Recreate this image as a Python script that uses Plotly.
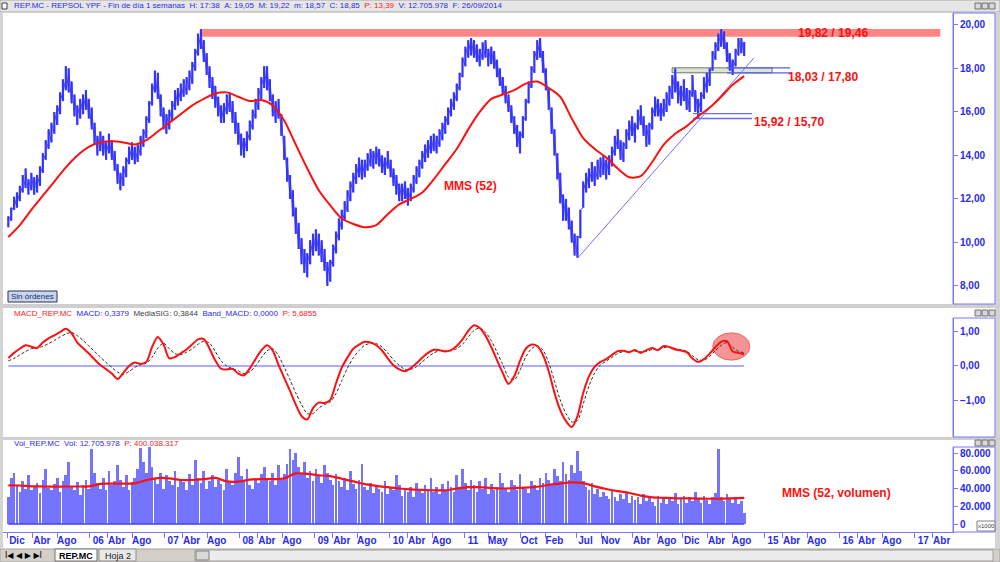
import pandas as pd
import plotly.graph_objects as go

# ---------------- DATA ----------------
LAST_DATE = "2014-09-26"

# bi-weekly high / low of REP.MC (EUR)
price_hi = [11.2, 11.6, 12.1, 12.3, 12.6, 13.1, 13.4, 12.9, 13.2, 13.0,
            13.1, 13.5, 14.1, 14.7, 15.2, 15.5, 16.0, 16.3, 16.9, 17.5,
            18.1, 18.0, 17.4, 16.8, 16.3, 16.6, 16.8, 17.0, 16.6, 16.2,
            15.5, 14.9, 15.1, 14.9, 14.6, 15.0, 14.7, 14.2, 13.6, 13.2,
            13.5, 13.9, 14.4, 14.6, 14.4, 14.5, 14.9, 15.2, 15.8, 16.5,
            17.3, 17.9, 17.8, 16.8, 16.2, 15.9, 16.1, 16.5, 17.0, 17.1,
            17.3, 17.5, 17.6, 17.9, 18.3, 18.9, 19.6, 19.8, 19.3, 18.7,
            18.1, 17.6, 17.2, 16.7, 16.3, 16.4, 16.8, 16.9, 16.5, 16.0,
            15.5, 15.0, 14.8, 15.1, 15.6, 16.1, 16.6, 17.1, 17.6, 18.1,
            18.1, 17.5, 16.8, 16.5, 16.6, 15.9, 14.9, 13.9, 13.1, 12.4,
            11.6, 10.9, 10.2, 9.7, 9.5, 10.1, 10.4, 10.6, 10.4, 10.1,
            9.7, 9.1, 9.2, 9.9, 10.5, 11.1, 11.5, 11.9, 12.4, 12.8,
            13.2, 13.6, 13.9, 13.8, 13.8, 14.1, 14.3, 14.2, 14.4, 14.3,
            14.0, 13.9, 14.2, 13.8, 13.4, 13.1, 12.7, 12.7, 12.8, 12.5,
            12.7, 13.1, 13.5, 13.8, 14.2, 14.5, 14.7, 14.9, 15.0, 14.9,
            15.2, 15.5, 15.8, 16.2, 16.6, 16.9, 17.3, 17.8, 18.5, 19.0,
            19.3, 19.4, 19.3, 19.1, 18.9, 19.2, 19.3, 18.9, 19.0, 18.8,
            18.4, 18.0, 17.6, 17.2, 16.8, 16.3, 15.8, 15.4, 15.1, 15.8,
            16.6, 17.4, 18.1, 18.8, 19.3, 19.4, 18.8, 18.0, 17.1, 16.2,
            15.2, 14.1, 13.2, 12.2, 12.0, 11.6, 11.0, 10.4, 10.3, 11.5,
            12.8, 13.2, 13.4, 13.7, 13.5, 13.8, 13.9, 14.0, 13.8, 14.0,
            14.4, 14.9, 15.2, 14.7, 14.6, 15.2, 15.6, 15.8, 15.5, 16.1,
            16.3, 15.8, 15.4, 15.5, 16.2, 16.7, 16.6, 16.4, 16.6, 16.9,
            17.2, 17.7, 18.0, 17.4, 17.2, 17.5, 17.1, 17.0, 17.7, 17.0,
            16.6, 16.9, 17.6, 17.8, 18.0, 18.8, 19.2, 19.6, 19.8, 19.7,
            19.2, 18.7, 18.4, 18.9, 19.4, 19.4, 19.22]
price_lo = [10.7, 11.0, 11.5, 11.6, 11.9, 12.3, 12.5, 12.2, 12.4, 12.2,
            12.3, 12.6, 13.2, 13.8, 14.3, 14.6, 15.0, 15.4, 15.9, 16.5,
            17.0, 16.9, 16.4, 15.8, 15.4, 15.7, 15.9, 16.1, 15.7, 15.2,
            14.5, 14.0, 14.2, 14.0, 13.8, 14.1, 13.8, 13.3, 12.7, 12.4,
            12.6, 13.0, 13.6, 13.8, 13.6, 13.7, 14.0, 14.4, 14.8, 15.5,
            16.3, 16.9, 16.6, 15.8, 15.2, 15.0, 15.2, 15.6, 16.1, 16.3,
            16.5, 16.7, 16.8, 17.0, 17.3, 17.9, 18.6, 18.9, 18.3, 17.7,
            17.1, 16.6, 16.2, 15.8, 15.5, 15.5, 15.9, 16.0, 15.5, 15.0,
            14.5, 14.0, 13.9, 14.2, 14.7, 15.2, 15.7, 16.1, 16.6, 17.1,
            17.0, 16.5, 15.8, 15.5, 15.7, 14.9, 13.8, 12.8, 12.0, 11.2,
            10.4, 9.7, 9.0, 8.6, 8.4, 9.0, 9.4, 9.6, 9.4, 9.1,
            8.7, 8.0, 8.2, 8.9, 9.5, 10.1, 10.6, 11.0, 11.4, 11.9,
            12.3, 12.7, 13.0, 12.9, 13.0, 13.3, 13.5, 13.4, 13.6, 13.5,
            13.2, 13.1, 13.4, 13.0, 12.6, 12.2, 11.9, 11.9, 12.0, 11.7,
            11.9, 12.3, 12.7, 13.0, 13.4, 13.7, 13.9, 14.1, 14.2, 14.1,
            14.4, 14.7, 15.0, 15.4, 15.8, 16.1, 16.5, 17.0, 17.6, 18.1,
            18.5, 18.6, 18.5, 18.3, 18.1, 18.4, 18.5, 18.1, 18.2, 18.0,
            17.6, 17.2, 16.8, 16.4, 16.0, 15.5, 15.0, 14.4, 14.1, 14.8,
            15.6, 16.4, 17.1, 17.8, 18.4, 18.5, 17.8, 17.0, 16.1, 15.0,
            14.0, 12.9, 11.8, 11.0, 11.0, 10.6, 10.0, 9.4, 9.3, 10.2,
            11.6, 12.3, 12.5, 12.8, 12.6, 12.9, 13.0, 13.1, 12.9, 13.1,
            13.5, 14.0, 14.3, 13.8, 13.7, 14.3, 14.7, 14.9, 14.6, 15.2,
            15.4, 14.9, 14.4, 14.5, 15.2, 15.8, 15.8, 15.6, 15.8, 16.0,
            16.3, 16.6, 16.9, 16.4, 16.3, 16.5, 16.1, 16.0, 16.7, 16.0,
            15.7, 16.0, 16.6, 16.9, 17.2, 17.9, 18.4, 18.8, 19.0, 18.9,
            18.3, 17.9, 17.7, 18.1, 18.6, 18.7, 18.57]

# MMS (52) of the price, every 8 weeks
sma52 = [10.25, 10.8, 11.5, 12.15, 12.8, 13.45, 14.0, 14.4, 14.6, 14.65,
         14.6, 14.5, 14.7, 15.1, 15.5, 15.9, 16.3, 16.6, 16.85, 16.9,
         16.7, 16.5, 16.55, 16.3, 15.6, 14.5, 13.4, 12.4, 11.7, 11.1,
         10.85, 10.7, 10.8, 11.3, 11.75, 12.0, 12.3, 12.9, 13.6, 14.3,
         15.2, 16.0, 16.6, 16.8, 17.0, 17.3, 17.4, 17.1, 16.7, 15.7,
         14.8, 14.3, 13.9, 13.4, 13.0, 13.05, 13.7, 14.5, 15.0, 15.35,
         15.8, 16.2, 16.7, 17.25, 17.65]

# MACD and signal (MediaSIG), every 4 weeks
macd = [0.23, 0.38, 0.5, 0.6, 0.56, 0.52, 0.68, 0.8, 0.89, 0.98,
        1.08, 0.95, 0.68, 0.52, 0.36, 0.19, 0.03, -0.09, -0.22, -0.38,
        -0.2, 0.0, 0.1, 0.06, 0.12, 0.55, 0.84, 0.62, 0.22, 0.26,
        0.37, 0.48, 0.63, 0.77, 0.78, 0.5, 0.16, -0.08, -0.1, -0.08,
        -0.22, -0.27, -0.07, 0.2, 0.45, 0.6, 0.44, 0.03, -0.35, -0.72,
        -1.12, -1.45, -1.55, -1.22, -1.06, -1.07, -0.98, -0.5, -0.05, 0.25,
        0.5, 0.62, 0.7, 0.68, 0.6, 0.45, 0.22, 0.02, -0.1, -0.15,
        -0.06, 0.08, 0.24, 0.38, 0.47, 0.46, 0.42, 0.46, 0.58, 0.77,
        1.02, 1.18, 1.1, 0.88, 0.55, 0.17, -0.2, -0.52, -0.3, 0.15,
        0.5, 0.62, 0.58, 0.32, -0.15, -0.78, -1.28, -1.6, -1.77, -1.45,
        -0.78, -0.3, -0.02, 0.12, 0.2, 0.32, 0.43, 0.44, 0.4, 0.46,
        0.38, 0.46, 0.52, 0.46, 0.58, 0.55, 0.48, 0.45, 0.4, 0.22,
        0.12, 0.2, 0.36, 0.55, 0.7, 0.72, 0.42, 0.38, 0.3379]
macd_sig = [0.15, 0.22, 0.32, 0.42, 0.5, 0.53, 0.57, 0.65, 0.74, 0.84,
            0.93, 0.97, 0.88, 0.74, 0.58, 0.42, 0.26, 0.1, -0.04, -0.18,
            -0.24, -0.16, -0.04, 0.04, 0.08, 0.25, 0.52, 0.66, 0.5, 0.36,
            0.33, 0.4, 0.5, 0.63, 0.72, 0.66, 0.42, 0.15, 0.0, -0.08,
            -0.14, -0.22, -0.17, 0.0, 0.24, 0.44, 0.5, 0.3, -0.04, -0.4,
            -0.78, -1.12, -1.38, -1.38, -1.22, -1.12, -1.04, -0.8, -0.42, -0.06,
            0.24, 0.45, 0.6, 0.66, 0.65, 0.55, 0.38, 0.18, 0.02, -0.1,
            -0.1, -0.02, 0.12, 0.26, 0.38, 0.44, 0.44, 0.44, 0.5, 0.63,
            0.84, 1.03, 1.1, 0.98, 0.74, 0.4, 0.04, -0.32, -0.4, -0.12,
            0.26, 0.5, 0.58, 0.46, 0.1, -0.44, -0.98, -1.38, -1.62, -1.58,
            -1.1, -0.58, -0.2, 0.03, 0.14, 0.25, 0.36, 0.42, 0.42, 0.43,
            0.41, 0.42, 0.48, 0.48, 0.53, 0.55, 0.51, 0.47, 0.43, 0.3,
            0.18, 0.17, 0.28, 0.45, 0.6, 0.68, 0.54, 0.43, 0.3844]
band_macd = 0.0

# volume, millions of shares, bi-weekly
vol_millions = [30, 52, 58, 44, 36, 48, 40, 55, 38, 42,
                46, 35, 50, 62, 41, 38, 45, 52, 36, 48,
                55, 70, 42, 38, 47, 33, 44, 50, 40, 84,
                58, 46, 40, 52, 38, 60, 44, 48, 66, 50,
                42, 55, 38, 47, 52, 62, 86, 70, 58, 88,
                64, 52, 45, 58, 40, 55, 48, 44, 60, 42,
                50, 47, 38, 56, 44, 72, 52, 46, 60, 40,
                48, 55, 42, 50, 45, 38, 62, 48, 44, 58,
                76, 54, 48, 62, 44, 40, 50, 46, 56, 64,
                52, 48, 58, 44, 66, 50, 56, 68, 85, 72,
                80, 64, 58, 70, 52, 60, 48, 62, 55, 46,
                66, 58, 50, 44, 56, 48, 42, 52, 38, 60,
                45, 40, 50, 68, 42, 38, 46, 35, 44, 40,
                36, 48, 34, 42, 38, 55, 44, 32, 40, 36,
                42, 30, 46, 38, 35, 44, 40, 52, 36, 42,
                34, 45, 38, 48, 42, 36, 55, 40, 62, 46,
                38, 50, 44, 36, 48, 40, 52, 34, 45, 38,
                42, 58, 46, 40, 36, 50, 44, 38, 56, 42,
                40, 35, 48, 44, 38, 52, 46, 58, 50, 44,
                62, 54, 48, 70, 56, 50, 66, 58, 82, 60,
                48, 42, 38, 46, 34, 40, 30, 36, 32, 28,
                38, 30, 26, 34, 28, 36, 24, 32, 27, 30,
                22, 34, 26, 30, 25, 20, 32, 24, 28, 22,
                30, 26, 35, 22, 28, 32, 24, 30, 26, 36,
                28, 24, 32, 27, 22, 30, 35, 84, 30, 26,
                34, 28, 24, 30, 22, 26, 12.706]
# MMS (52, volumen), millions, every 8 weeks
vol_sma52 = [43.5, 43.4, 42.5, 42.3, 42.2, 42.3, 42.3, 42.4, 45.3, 45.5,
             45.6, 45.8, 49.5, 51.8, 51.5, 49.6, 49.6, 50.5, 52.0, 48.0,
             47.8, 50.0, 50.7, 50.5, 51.5, 57.0, 56.5, 55.0, 54.0, 51.0,
             48.0, 45.0, 43.0, 41.5, 40.0, 39.0, 38.5, 38.0, 38.0, 40.0,
             41.5, 41.5, 40.5, 40.0, 40.5, 41.0, 42.0, 44.0, 45.5, 47.0,
             46.0, 42.5, 39.5, 37.0, 35.0, 32.0, 30.0, 29.5, 29.0, 29.0,
             28.7, 28.5, 28.5, 29.0, 29.5]

# drawn support / resistance levels (hi, lo)
levels = [(19.82, 19.46), (18.03, 17.80), (15.92, 15.70)]
# drawn trend line (start, end)
trend_dates = ["2012-07-08", "2014-11-12"]
trend_vals = [9.29, 18.48]

tick_dates = ["2004-12-01", "2005-04-01", "2005-08-01", "2006-01-01", "2006-04-01", "2006-08-01",
              "2007-01-01", "2007-04-01", "2007-08-01", "2008-01-01", "2008-04-01", "2008-08-01",
              "2009-01-01", "2009-04-01", "2009-08-01", "2010-01-01", "2010-04-01", "2010-08-01",
              "2011-01-01", "2011-05-01", "2011-10-01", "2012-02-01", "2012-07-01", "2012-11-01",
              "2013-04-01", "2013-08-01", "2013-12-01", "2014-04-01", "2014-08-01", "2015-01-01",
              "2015-04-01", "2015-08-01", "2016-01-01", "2016-04-01", "2016-08-01", "2017-01-01",
              "2017-04-01"]
tick_text = ["Dic", "Abr", "Ago", "06", "Abr", "Ago", "07", "Abr", "Ago", "08", "Abr", "Ago",
             "09", "Abr", "Ago", "10", "Abr", "Ago", "11", "May", "Oct", "Feb", "Jul", "Nov",
             "Abr", "Ago", "Dic", "Abr", "Ago", "15", "Abr", "Ago", "16", "Abr", "Ago", "17", "Abr"]

# ---------------- FIGURE ----------------
W, H = 1000, 562
def px(x): return x / W
def py(y): return 1 - y / H

X_RANGE = ["2004-11-07", "2017-07-09"]
BLUE = "#3434ff"
TXT_BLUE = "#2a2af0"
AX = "#7878ff"
RED = "#ff1010"
FONT = "Liberation Sans"

price_dates = pd.date_range(end=LAST_DATE, periods=len(price_hi), freq="14D")
dstr = [d.strftime("%Y-%m-%d") for d in price_dates]
sma_dates = dstr[::4]
macd_dates = dstr[::2]

seg_x, seg_y = [], []
zig_x, zig_y = [], []
for d, lo, hi in zip(dstr, price_lo, price_hi):
    seg_x += [d, d, None]
    seg_y += [lo, hi, None]
    zig_x += [d, d]
    zig_y += [lo, hi]

fig = go.Figure()
# price bars (weekly range scribble + high/low sticks)
fig.add_trace(go.Scatter(x=zig_x, y=zig_y, mode="lines", line=dict(color="#5050ff", width=1),
                         xaxis="x", yaxis="y", hoverinfo="skip"))
fig.add_trace(go.Scatter(x=seg_x, y=seg_y, mode="lines", line=dict(color=BLUE, width=2.2),
                         xaxis="x", yaxis="y", hoverinfo="skip"))
# level lines
lv2_x = ["2014-07-04", "2015-05-08"]
for v in levels[1]:
    fig.add_trace(go.Scatter(x=lv2_x, y=[v, v], mode="lines", line=dict(color="#4f5fff", width=1.2),
                             xaxis="x", yaxis="y", hoverinfo="skip"))
lv3_x = ["2014-01-20", "2014-11-03"]
for v in levels[2]:
    fig.add_trace(go.Scatter(x=lv3_x, y=[v, v], mode="lines", line=dict(color="#6a6aff", width=1.3),
                             xaxis="x", yaxis="y", hoverinfo="skip"))
# trend line
fig.add_trace(go.Scatter(x=trend_dates, y=trend_vals, mode="lines", line=dict(color="#6f6fff", width=1),
                         xaxis="x", yaxis="y", hoverinfo="skip"))
# MMS 52
fig.add_trace(go.Scatter(x=sma_dates, y=sma52, mode="lines", line=dict(color=RED, width=2, shape="spline", smoothing=0.8),
                         xaxis="x", yaxis="y", hoverinfo="skip"))

# MACD panel
fig.add_trace(go.Scatter(x=[macd_dates[0], macd_dates[-1]], y=[band_macd, band_macd], mode="lines",
                         line=dict(color="#5a5aff", width=1), xaxis="x2", yaxis="y2", hoverinfo="skip"))
fig.add_trace(go.Scatter(x=macd_dates, y=macd_sig, mode="lines",
                         line=dict(color="#303030", width=1, dash="3px,2px", shape="spline", smoothing=0.8),
                         xaxis="x2", yaxis="y2", hoverinfo="skip"))
fig.add_trace(go.Scatter(x=macd_dates, y=macd, mode="lines",
                         line=dict(color=RED, width=2, shape="spline", smoothing=0.8),
                         xaxis="x2", yaxis="y2", hoverinfo="skip"))

# Volume panel
fig.add_trace(go.Bar(x=dstr, y=[v * 1000 for v in vol_millions], width=13 * 86400000,
                     marker=dict(color="#7474ff", line=dict(width=0)), xaxis="x3", yaxis="y3", hoverinfo="skip"))
fig.add_trace(go.Scatter(x=[dstr[0], dstr[-1]], y=[0, 0], mode="lines", line=dict(color="#4040ff", width=1.5),
                         xaxis="x3", yaxis="y3", hoverinfo="skip"))
fig.add_trace(go.Scatter(x=sma_dates, y=[v * 1000 for v in vol_sma52], mode="lines",
                         line=dict(color=RED, width=2.2, shape="spline", smoothing=0.8),
                         xaxis="x3", yaxis="y3", hoverinfo="skip"))

tickfont = dict(family=FONT, size=10, color=TXT_BLUE, weight="bold")
xcommon = dict(range=X_RANGE, domain=[px(3), px(953)], showgrid=False, zeroline=False, type="date")
ycommon = dict(side="right", showgrid=False, zeroline=False, ticks="outside", ticklen=4, tickcolor=AX,
               showline=True, linecolor=AX, linewidth=1, tickfont=tickfont, fixedrange=True)

shapes = []
def rect(x0, y0, x1, y1, fill=None, line=None, lw=1, layer="above"):
    d = dict(type="rect", xref="paper", yref="paper", x0=px(x0), x1=px(x1), y0=py(y1), y1=py(y0), layer=layer)
    d["fillcolor"] = fill if fill else "rgba(0,0,0,0)"
    d["line"] = dict(color=line, width=lw) if line else dict(width=0)
    shapes.append(d)

# window chrome
rect(0, 0, 1000, 12, fill="#e6e6e6", line="#a8a8a8")
rect(0, 12, 3, 548, fill="#d4d4d4")
rect(995, 12, 1000, 548, fill="#d4d4d4")
rect(0, 304, 1000, 308, fill="#cfcfcf")
rect(0, 437, 1000, 440, fill="#cfcfcf")
rect(0, 549, 1000, 562, fill="#d4d0c8", line="#a0a0a0")
# axis boxes
rect(953, 13, 995, 304, line=AX)
rect(953, 318, 995, 437, line=AX)
rect(953, 447, 995, 532, line=AX)
# small window buttons
for yc in (6, 313, 443):
    for xb in (978, 985, 992):
        rect(xb - 3, yc - 3, xb + 3, yc + 3, fill="#d8d8d8", line="#707070")
# title icon
rect(2, 3, 7, 9, fill="#ffffff", line="#404040")
# "Sin órdenes" button
rect(8, 291, 57, 302, fill="#c6d6ee", line="#303050")
# bottom tabs & scrollbar
rect(55, 549, 97, 561, fill="#ffffff", line="#707070")
rect(99, 549, 136, 561, fill="#e8e8e8", line="#909090")
rect(195, 550, 993, 561, fill="#ececec", line="#a0a0a0")
rect(196, 551, 209, 560, fill="#d8d8d8", line="#808080")
# x1000 box
rect(977, 521, 995, 531, fill="#ffffff", line="#808080")

# data-referenced drawings
shapes.append(dict(type="rect", xref="x", yref="y", x0="2007-06-25", x1="2017-05-08",
                   y0=levels[0][1], y1=levels[0][0], fillcolor="#ff8484", line=dict(width=0), layer="below"))
shapes.append(dict(type="rect", xref="x", yref="y", x0="2013-10-10", x1="2015-02-09",
                   y0=levels[1][1], y1=levels[1][0], fillcolor="#dde4d4", line=dict(color="#6e7866", width=1),
                   layer="below"))
shapes.append(dict(type="circle", xref="x2", yref="y2", x0="2014-04-26", x1="2014-10-24", y0=0.17, y1=0.96,
                   fillcolor="rgba(240,112,112,0.75)", line=dict(color="rgba(232,96,96,0.9)", width=1),
                   layer="below"))

def fmt(v):
    return f"{v:.2f}".replace(".", ",")

NB = "\u00a0\u00a0"
ann = []
def text(x, y, s, size=8, color=TXT_BLUE, anchor="left", bold=False, family=FONT):
    ann.append(dict(xref="paper", yref="paper", x=px(x), y=py(y), text=(f"<b>{s}</b>" if bold else s),
                    showarrow=False, xanchor=anchor, yanchor="middle",
                    font=dict(family=family, size=size, color=color)))

redspan = lambda s: f"<span style='color:#ff2020'>{s}</span>"
text(12, 6, "REP.MC - REPSOL YPF - Fin de día 1 semanas" + NB + "H: 17:38" + NB + "A: 19,05" + NB +
     "M: 19,22" + NB + "m: 18,57" + NB + "C: 18,85" + NB + redspan("P: 13,39") + NB +
     "V: 12.705.978" + NB + "F: 26/09/2014", size=8)
text(12, 313, redspan("MACD_REP.MC") + NB + "MACD: " + f"{macd[-1]:.4f}".replace(".", ",") + NB +
     "<span style='color:#404040'>MediaSIG: " + f"{macd_sig[-1]:.4f}".replace(".", ",") + "</span>" + NB +
     "Band_MACD: " + f"{band_macd:.4f}".replace(".", ",") + NB + redspan("P: 5,6855"), size=8)
text(12, 443, "Vol_REP.MC" + NB + "Vol: 12.705.978" + NB + redspan("P: 400.038.317"), size=8)

text(796, 33, f"{fmt(levels[0][0])} / {fmt(levels[0][1])}", size=12, color=RED, bold=True)
text(786, 77, f"{fmt(levels[1][0])} / {fmt(levels[1][1])}", size=12, color=RED, bold=True)
text(752, 122, f"{fmt(levels[2][0])} / {fmt(levels[2][1])}", size=12, color=RED, bold=True)
text(442, 186, "MMS (52)", size=12, color=RED, bold=True)
text(780, 493, "MMS (52, volumen)", size=12, color=RED, bold=True)

text(32.5, 296.5, "Sin órdenes", size=8, color="#1a2a6a", anchor="center")
text(76, 555.5, "REP.MC", size=9, color="#000000", anchor="center", bold=True)
text(117.5, 555.5, "Hoja 2", size=9, color="#202020", anchor="center")
text(3, 555.5, "I◀ ◀ ▶ ▶I", size=8, color="#000000", family="DejaVu Sans")
text(986, 526, "x1000", size=6, color="#404040", anchor="center")

fig.update_layout(
    width=W, height=H, margin=dict(l=0, r=0, t=0, b=0),
    paper_bgcolor="#ffffff", plot_bgcolor="#ffffff",
    showlegend=False, separators=",.", bargap=0,
    font=dict(family=FONT, size=10, color=TXT_BLUE),
    xaxis=dict(**xcommon, anchor="y", showticklabels=False, ticks="", showline=False),
    xaxis2=dict(**xcommon, anchor="y2", showticklabels=False, ticks="", showline=False),
    xaxis3=dict(**xcommon, anchor="y3", tickmode="array", tickvals=tick_dates, ticktext=tick_text,
                ticks="outside", ticklen=5, tickcolor=AX, showline=True, linecolor=AX,
                tickfont=tickfont, ticklabelshift=9, ticklabelstandoff=-6),
    yaxis=dict(**ycommon, anchor="x", domain=[py(304), py(13)], range=[7.17, 20.55],
               tickvals=[8, 10, 12, 14, 16, 18, 20], tickformat=".2f"),
    yaxis2=dict(**ycommon, anchor="x2", domain=[py(437), py(318)], range=[-2.058, 1.391],
                tickvals=[-1, 0, 1], tickformat=".2f"),
    yaxis3=dict(**ycommon, anchor="x3", domain=[py(532), py(447)], range=[-9000, 86800],
                tickvals=[0, 20000, 40000, 60000, 80000], tickformat=",.0f"),
    shapes=shapes, annotations=ann,
)

fig.write_html("out.html")
